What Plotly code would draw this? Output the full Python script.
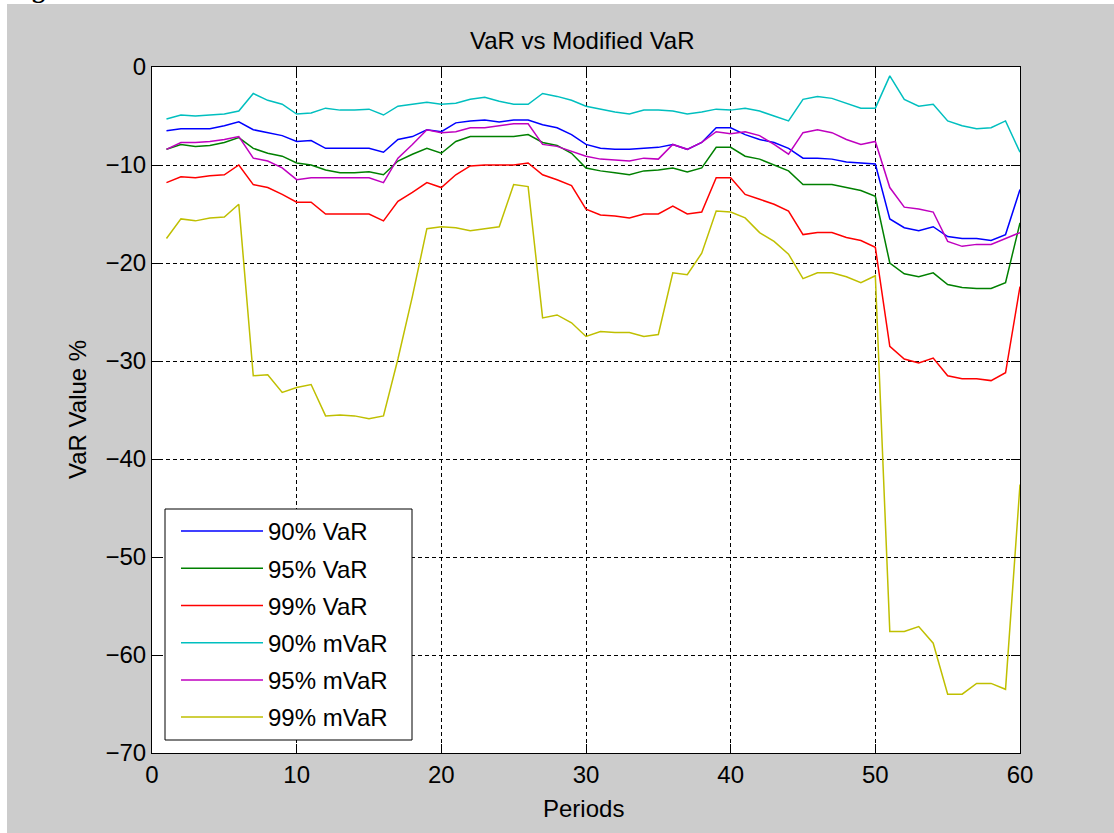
import plotly.graph_objects as go

# Periods and VaR / modified VaR series (values in %)
periods = list(range(1, 61))

var90 = [-6.5, -6.3, -6.3, -6.3, -6.0, -5.6, -6.4, -6.7, -7.0, -7.6,
         -7.5, -8.3, -8.3, -8.3, -8.3, -8.7, -7.4, -7.1, -6.4, -6.6,
         -5.7, -5.5, -5.4, -5.6, -5.4, -5.4, -5.9, -6.2, -6.9, -7.9,
         -8.3, -8.4, -8.4, -8.3, -8.2, -7.9, -8.4, -7.7, -6.2, -6.2,
         -6.9, -7.4, -7.7, -8.3, -9.3, -9.3, -9.4, -9.7, -9.8, -9.9,
         -15.5, -16.4, -16.7, -16.3, -17.3, -17.5, -17.5, -17.7, -17.1, -12.5]

var95 = [-8.4, -7.9, -8.1, -8.0, -7.7, -7.2, -8.3, -8.8, -9.1, -9.8,
         -10.0, -10.5, -10.8, -10.8, -10.7, -11.0, -9.6, -8.9, -8.3, -8.8,
         -7.6, -7.1, -7.1, -7.1, -7.1, -6.9, -7.7, -8.0, -8.8, -10.3,
         -10.6, -10.8, -11.0, -10.6, -10.5, -10.3, -10.7, -10.3, -8.2, -8.2,
         -9.1, -9.4, -10.0, -10.6, -12.0, -12.0, -12.0, -12.3, -12.6, -13.2,
         -20.0, -21.1, -21.4, -21.0, -22.2, -22.5, -22.6, -22.6, -22.0, -15.9]

var99 = [-11.8, -11.2, -11.3, -11.1, -11.0, -10.0, -12.0, -12.3, -13.0, -13.8,
         -13.8, -15.0, -15.0, -15.0, -15.0, -15.7, -13.7, -12.8, -11.8, -12.3,
         -11.0, -10.1, -10.0, -10.0, -10.0, -9.8, -11.0, -11.5, -12.1, -14.5,
         -15.1, -15.2, -15.4, -15.0, -15.0, -14.2, -15.0, -14.8, -11.3, -11.3,
         -13.0, -13.5, -14.0, -14.7, -17.1, -16.9, -16.9, -17.4, -17.7, -18.4,
         -28.5, -29.8, -30.2, -29.7, -31.5, -31.8, -31.8, -32.0, -31.2, -22.4]

mvar90 = [-5.3, -4.9, -5.0, -4.9, -4.8, -4.5, -2.7, -3.4, -3.8, -4.8,
          -4.7, -4.2, -4.4, -4.4, -4.3, -4.9, -4.0, -3.8, -3.6, -3.8,
          -3.7, -3.3, -3.1, -3.5, -3.8, -3.8, -2.7, -3.0, -3.4, -4.0,
          -4.3, -4.6, -4.8, -4.4, -4.4, -4.5, -4.8, -4.6, -4.3, -4.4,
          -4.2, -4.5, -5.0, -5.5, -3.3, -3.0, -3.2, -3.7, -4.2, -4.2,
          -0.9, -3.3, -4.0, -3.8, -5.5, -6.0, -6.3, -6.2, -5.5, -8.7]

mvar95 = [-8.4, -7.7, -7.7, -7.6, -7.4, -7.1, -9.3, -9.6, -10.3, -11.5,
          -11.3, -11.3, -11.3, -11.3, -11.3, -11.8, -9.3, -7.9, -6.4, -6.7,
          -6.6, -6.2, -6.2, -6.0, -5.8, -5.8, -7.9, -8.1, -8.6, -9.1,
          -9.4, -9.5, -9.6, -9.3, -9.4, -7.9, -8.4, -7.7, -6.6, -6.8,
          -6.6, -7.0, -7.9, -8.9, -6.7, -6.4, -6.7, -7.4, -7.9, -7.6,
          -12.3, -14.3, -14.5, -14.8, -17.8, -18.3, -18.1, -18.1, -17.5, -16.9]

mvar99 = [-17.5, -15.5, -15.7, -15.4, -15.3, -14.0, -31.5, -31.4, -33.2, -32.7,
          -32.4, -35.6, -35.5, -35.6, -35.9, -35.6, -29.8, -23.4, -16.5, -16.3,
          -16.4, -16.7, -16.5, -16.3, -12.0, -12.2, -25.6, -25.3, -26.1, -27.5,
          -27.0, -27.1, -27.1, -27.5, -27.3, -21.0, -21.2, -19.0, -14.7, -14.8,
          -15.4, -16.9, -17.8, -19.1, -21.6, -21.0, -21.0, -21.4, -22.0, -21.3,
          -57.6, -57.6, -57.1, -58.8, -64.0, -64.0, -62.9, -62.9, -63.5, -42.6]

series_names = ["90% VaR", "95% VaR", "99% VaR", "90% mVaR", "95% mVaR", "99% mVaR"]
series_values = [var90, var95, var99, mvar90, mvar95, mvar99]
series_colors = ["#0000ff", "#008000", "#ff0000", "#00bfbf", "#bf00bf", "#bfbf00"]

x_ticks = [0, 10, 20, 30, 40, 50, 60]
y_ticks = [0, -10, -20, -30, -40, -50, -60, -70]

# Figure geometry (pixels)
W, H = 1114, 833
ML, MR, MT, MB = 152, 94, 67, 80
PW, PH = W - ML - MR, H - MT - MB


def px2x(px):
    return (px - ML) / PW


def py2y(py):
    return (H - MB - py) / PH


FONT = "Liberation Sans, Arial, sans-serif"
FS = 24

fig = go.Figure()
for i, (name, vals, col) in enumerate(zip(series_names, series_values, series_colors)):
    fig.add_trace(go.Scatter(
        x=periods, y=vals, mode="lines", name=name,
        line=dict(color=col, width=1.5),
        legendgroup=f"g{i}",
    ))

axis_common = dict(
    showline=True, linecolor="black", linewidth=1, mirror="ticks",
    ticks="inside", ticklen=9, tickwidth=1, tickcolor="black",
    showgrid=True, gridcolor="black", gridwidth=1, griddash="4px,3px",
    zeroline=False, tickfont=dict(family=FONT, size=FS, color="black"),
)

fig.update_xaxes(range=[0, 60], tickvals=x_ticks, **axis_common)
fig.update_yaxes(range=[-70, 0], tickvals=y_ticks, **axis_common)

fig.update_layout(
    width=W, height=H, autosize=False,
    margin=dict(l=ML, r=MR, t=MT, b=MB, pad=0),
    paper_bgcolor="#cccccc", plot_bgcolor="white",
    font=dict(family=FONT, size=FS, color="black"),
    showlegend=True,
    legend=dict(
        x=px2x(176), y=py2y(509), xanchor="left", yanchor="top",
        bgcolor="rgba(0,0,0,0)", borderwidth=0,
        font=dict(family=FONT, size=FS, color="black"),
        itemwidth=82, tracegroupgap=3, traceorder="grouped",
    ),
    shapes=[
        # thin white page strips at the top and left edges
        dict(type="rect", xref="paper", yref="paper",
             x0=px2x(0), x1=px2x(W), y0=py2y(4), y1=py2y(0),
             fillcolor="white", line=dict(width=0), layer="below"),
        dict(type="rect", xref="paper", yref="paper",
             x0=px2x(0), x1=px2x(7), y0=py2y(H), y1=py2y(0),
             fillcolor="white", line=dict(width=0), layer="below"),
        # legend frame
        dict(type="rect", xref="paper", yref="paper",
             x0=px2x(165), x1=px2x(412), y0=py2y(740), y1=py2y(509),
             fillcolor="white", line=dict(color="black", width=1), layer="above"),
    ],
    annotations=[
        dict(text="VaR vs Modified VaR", x=px2x(582), y=py2y(40),
             xref="paper", yref="paper", xanchor="center", yanchor="middle",
             showarrow=False, font=dict(family=FONT, size=FS, color="black")),
        dict(text="Periods", x=px2x(583), y=py2y(808),
             xref="paper", yref="paper", xanchor="center", yanchor="middle",
             showarrow=False, font=dict(family=FONT, size=FS, color="black")),
        dict(text="VaR Value %", x=px2x(77), y=py2y(410), textangle=-90,
             xref="paper", yref="paper", xanchor="center", yanchor="middle",
             showarrow=False, font=dict(family=FONT, size=FS, color="black")),
        # caption heading above the figure, mostly outside the page
        dict(text="<b>Figure</b>", x=px2x(8), y=py2y(5),
             xref="paper", yref="paper", xanchor="left", yanchor="bottom",
             showarrow=False, borderpad=0,
             font=dict(family="Liberation Serif, Times New Roman, serif", size=26, color="black")),
    ],
)

fig.write_html("out.html")
